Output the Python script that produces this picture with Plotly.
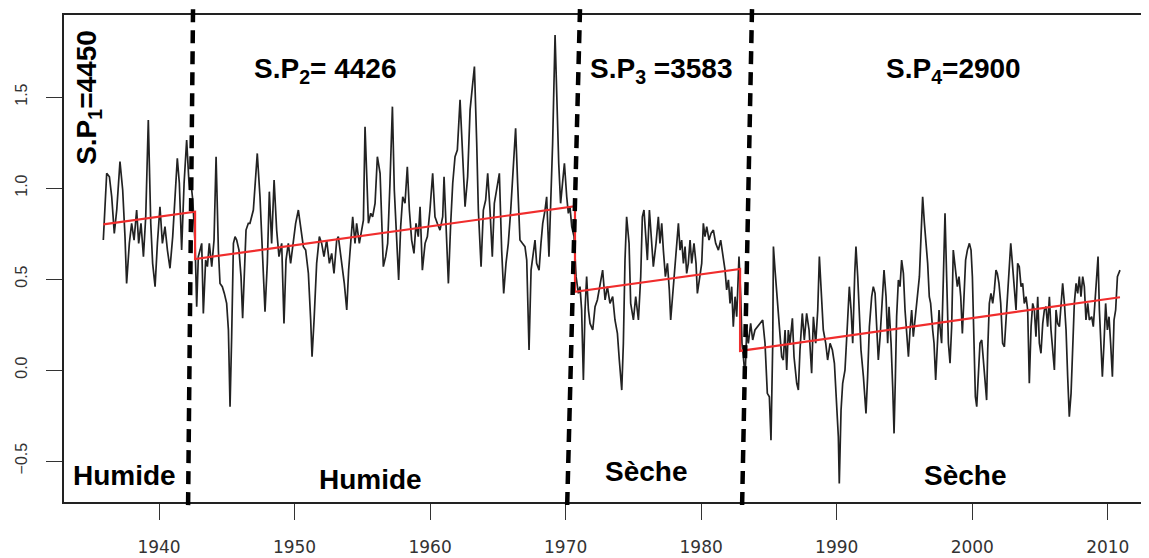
import plotly.graph_objects as go

# ---- series (year, value) ----
years = [
1935.89,1936.14,1936.34,1936.51,1936.70,1936.88,1937.12,1937.32,1937.49,1937.61,1937.81,1937.98,1938.16,1938.35,1938.50,1938.67,1938.85,1939.02,1939.21,1939.39,1939.53,1939.71,1939.88,1940.07,1940.25,1940.44,1940.62,1940.81,1941.01,1941.18,1941.35,1941.50,1941.67,1941.85,1942.04,1942.24,1942.36,1942.49,1942.66,1942.78,1942.90,1943.03,1943.15,1943.27,1943.44,1943.57,1943.71,1943.89,1944.06,1944.21,1944.38,1944.50,1944.67,1944.82,1944.99,1945.12,1945.24,1945.36,1945.49,1945.61,1945.73,1945.90,1946.05,1946.17,1946.30,1946.42,1946.59,
1946.71,1946.96,1947.25,1947.45,1947.65,1947.82,1947.99,1948.14,1948.31,1948.49,1948.68,1948.85,1949.05,1949.22,1949.37,1949.54,1949.71,1949.91,1950.08,1950.28,1950.45,1950.65,1950.82,1951.02,1951.19,1951.29,1951.44,1951.63,1951.83,1952.00,1952.17,1952.37,1952.57,1952.74,1952.91,1953.11,1953.23,1953.35,1953.53,1953.67,1953.85,1953.99,1954.14,1954.29,1954.46,1954.58,1954.78,1954.95,1955.08,1955.20,1955.32,1955.45,1955.62,1955.76,1955.94,1956.11,1956.31,1956.43,1956.55,1956.72,1956.87,1957.04,1957.22,1957.36,1957.54,1957.68,1957.83,1957.98,1958.15,1958.32,1958.47,1958.64,1958.81,1958.96,1959.13,
1959.26,1959.43,1959.63,1959.80,1959.99,1960.19,1960.36,1960.53,1960.73,1960.93,1961.03,1961.17,1961.35,1961.52,1961.67,1961.84,1962.01,1962.21,1962.38,1962.58,1962.77,1962.95,1963.12,1963.27,1963.44,1963.56,1963.76,1963.93,1964.10,1964.25,1964.42,1964.59,1964.74,1964.91,1965.11,1965.28,1965.43,1965.60,1965.77,1965.95,1966.14,1966.31,1966.46,1966.63,1966.81,1967.00,1967.13,1967.30,1967.45,1967.62,1967.74,1967.86,1968.04,1968.18,1968.31,1968.48,1968.60,1968.77,1968.92,1969.04,1969.22,1969.34,1969.49,1969.63,1969.78,1969.91,1970.08,1970.20,1970.32,1970.45,1970.62,1970.77,1970.94,1971.06,1971.18,1971.31,1971.43,1971.55,1971.68,
1971.80,1972.00,1972.17,1972.34,1972.54,1972.73,1972.91,1973.08,1973.27,1973.47,1973.64,1973.82,1973.96,1974.14,1974.26,1974.38,1974.50,1974.68,1974.80,1975.00,1975.17,1975.37,1975.54,1975.66,1975.78,1975.91,1976.03,1976.18,1976.30,1976.47,1976.67,1976.84,1976.96,1977.09,1977.21,1977.36,1977.51,1977.65,1977.75,1977.90,1978.07,1978.19,1978.32,1978.44,1978.56,1978.69,1978.81,1978.93,1979.05,1979.18,1979.30,1979.47,1979.62,1979.72,1979.87,1980.04,1980.16,1980.28,1980.41,1980.58,1980.73,1980.90,1981.07,1981.27,1981.44,1981.59,1981.76,1981.88,1982.01,1982.13,1982.25,1982.37,1982.50,1982.62,1982.79,1982.92,1983.01,1983.11,1983.24,1983.36,1983.48,1983.65,1983.80,1983.97,1984.17,
1984.34,1984.54,1984.71,1984.88,1985.03,1985.15,1985.28,1985.33,1985.45,1985.62,1985.77,1985.94,1986.06,1986.19,1986.31,1986.43,1986.55,1986.73,1986.85,1987.05,1987.17,1987.29,1987.46,1987.61,1987.78,1987.96,1988.15,1988.28,1988.45,1988.60,1988.72,1988.84,1989.01,1989.19,1989.33,1989.51,1989.68,1989.83,1990.00,1990.12,1990.19,1990.32,1990.44,1990.61,1990.78,1990.93,1991.06,1991.18,1991.33,1991.42,1991.55,1991.67,1991.79,1991.97,1992.16,1992.28,1992.41,1992.58,1992.70,1992.83,1992.95,1993.07,1993.20,1993.34,1993.49,1993.64,1993.76,1993.86,1994.01,1994.13,1994.23,1994.33,1994.42,1994.55,1994.67,1994.79,1994.92,1995.04,1995.16,1995.29,1995.41,1995.53,1995.65,1995.78,1995.95,1996.10,1996.22,1996.34,1996.47,1996.59,1996.71,1996.83,1996.93,1997.08,1997.18,1997.30,1997.42,1997.55,
1997.62,1997.74,1997.87,1997.99,1998.11,1998.24,1998.36,1998.48,1998.60,1998.73,1998.90,1999.02,1999.15,1999.27,1999.39,1999.51,1999.64,1999.79,1999.91,2000.01,2000.13,2000.23,2000.33,2000.45,2000.57,2000.70,2000.82,2000.94,2001.06,2001.14,2001.26,2001.38,2001.51,2001.63,2001.75,2001.85,2001.97,2002.10,2002.24,2002.37,2002.47,2002.59,2002.71,2002.84,2002.96,2003.08,2003.23,2003.35,2003.47,2003.60,2003.72,2003.84,2003.97,2004.09,2004.21,2004.34,2004.46,2004.58,2004.70,2004.83,2004.95,2005.07,2005.20,2005.32,2005.44,2005.56,2005.69,2005.81,2005.93,2006.06,2006.18,2006.30,2006.43,2006.55,2006.67,2006.80,2006.92,2007.04,2007.16,2007.29,2007.41,2007.53,2007.66,2007.78,2007.90,2008.02,2008.15,2008.27,2008.39,2008.52,2008.64,2008.81,2008.93,2009.06,2009.18,2009.28,2009.38,2009.50,2009.60,2009.72,2009.84,2009.97,2010.09,2010.21,2010.34,2010.46,2010.58,2010.71,2010.83,2010.90,
]
values = [
0.714,1.081,1.062,0.952,0.751,0.879,1.145,0.989,0.733,0.476,0.696,0.806,0.714,0.879,0.696,0.806,0.623,0.842,1.374,0.806,0.586,0.458,0.696,0.897,0.696,0.788,0.659,0.559,0.733,0.934,1.163,1.026,0.659,1.026,1.264,0.989,1.026,0.934,0.696,0.348,0.623,0.659,0.696,0.311,0.604,0.568,0.696,0.568,0.714,1.172,0.659,0.476,0.458,0.421,0.366,0.220,-0.201,0.183,0.696,0.733,0.714,0.659,0.513,0.284,0.513,0.769,0.806,
0.806,0.879,1.190,0.952,0.604,0.321,0.586,0.980,0.696,1.044,0.769,0.623,0.696,0.256,0.604,0.696,0.586,0.696,0.806,0.879,0.788,0.678,0.659,0.531,0.275,0.073,0.275,0.586,0.733,0.696,0.623,0.714,0.586,0.641,0.531,0.714,0.733,0.659,0.549,0.476,0.330,0.549,0.696,0.842,0.696,0.806,0.696,0.769,0.824,1.337,1.026,0.806,0.861,0.842,0.916,1.172,1.081,0.842,0.568,0.623,0.696,1.026,1.447,0.989,0.696,0.495,0.788,0.952,0.916,1.117,0.879,0.714,0.641,0.806,0.733,
0.897,0.549,0.696,0.733,0.879,1.081,0.842,0.806,0.769,0.842,1.062,0.806,0.476,0.806,1.026,1.172,1.209,1.484,1.209,0.897,1.062,1.429,1.557,1.667,1.245,0.879,0.568,0.879,0.934,1.081,0.879,0.623,0.916,0.989,1.081,0.659,0.421,0.586,0.696,0.879,1.154,1.328,1.026,0.714,0.696,0.678,0.604,0.110,0.549,0.659,0.714,0.586,0.549,0.696,0.806,0.879,0.952,0.623,0.952,1.245,1.841,1.465,1.136,0.916,1.062,1.136,0.952,0.861,0.897,0.788,0.733,0.513,0.421,0.458,0.330,-0.055,0.330,0.513,0.330,
0.256,0.220,0.348,0.385,0.476,0.549,0.385,0.458,0.366,0.403,0.275,0.201,0.055,-0.110,0.147,0.604,0.842,0.696,0.366,0.275,0.403,0.275,0.513,0.842,0.879,0.696,0.604,0.879,0.733,0.568,0.696,0.842,0.696,0.806,0.659,0.513,0.586,0.440,0.275,0.403,0.549,0.659,0.806,0.659,0.714,0.586,0.678,0.531,0.586,0.714,0.586,0.696,0.586,0.421,0.513,0.586,0.806,0.733,0.788,0.714,0.751,0.769,0.696,0.659,0.714,0.623,0.549,0.440,0.495,0.366,0.458,0.238,0.403,0.293,0.623,0.403,0.147,0.073,-0.037,0.220,0.147,0.256,0.165,0.220,0.238,
0.256,0.275,0.147,-0.128,-0.147,-0.385,0.147,0.678,0.549,0.366,0.256,0.073,0.055,0.220,0.000,0.220,0.147,0.284,0.073,-0.073,-0.110,0.110,0.311,0.165,0.311,0.220,-0.018,0.293,0.147,0.330,0.623,0.440,0.220,0.147,0.055,0.147,0.110,0.037,-0.183,-0.366,-0.623,-0.220,-0.073,0.000,0.238,0.458,0.330,0.147,0.531,0.678,0.513,0.330,0.110,-0.037,-0.238,-0.037,0.238,0.403,0.458,0.421,0.220,0.055,0.183,0.366,0.549,0.403,0.147,0.348,0.147,-0.092,-0.348,-0.037,0.293,0.495,0.458,0.604,0.531,0.330,0.220,0.073,0.220,0.330,0.183,0.275,0.403,0.513,0.733,0.952,0.806,0.696,0.586,0.403,0.366,0.220,0.147,-0.055,0.147,0.330,
0.238,0.147,0.513,0.861,0.513,0.147,0.037,0.238,0.659,0.568,0.458,0.513,0.403,0.201,0.385,0.604,0.659,0.696,0.659,0.513,0.147,-0.147,-0.201,-0.037,0.147,0.165,0.055,-0.037,-0.165,0.110,0.366,0.421,0.366,0.440,0.549,0.531,0.476,0.366,0.147,0.128,0.238,0.385,0.513,0.696,0.586,0.458,0.330,0.586,0.568,0.458,0.476,0.366,0.403,0.330,-0.073,0.238,0.366,0.330,0.183,0.403,0.147,0.092,0.256,0.330,0.348,0.238,0.403,0.220,0.110,0.000,0.330,0.256,0.238,0.366,0.476,0.366,0.220,-0.037,-0.256,-0.128,0.092,0.366,0.476,0.421,0.513,0.403,0.513,0.458,0.275,0.366,0.275,0.293,0.238,0.403,0.513,0.623,0.330,0.110,-0.037,0.147,0.366,0.220,0.293,0.147,-0.037,0.275,0.330,0.513,0.531,0.549,
]

# ---- segment trends (start year, end year, start value, end value) ----
seg_start_year = [1935.89, 1942.66, 1970.69, 1982.87]
seg_end_year   = [1942.66, 1970.69, 1982.87, 2010.90]
seg_start_val  = [0.80, 0.61, 0.43, 0.105]
seg_end_val    = [0.87, 0.90, 0.555, 0.40]

# ---- rupture lines (slightly slanted in the picture) ----
break_top_year    = [1942.51, 1971.06, 1983.75]
break_bottom_year = [1942.14, 1970.10, 1983.01]

# ---- labels ----
sp_labels = ["S.P<sub>2</sub>= 4426", "S.P<sub>3</sub> =3583", "S.P<sub>4</sub>=2900"]
sp_x = [1952.25, 1977.04, 1998.58]
sp_y = [1.648, 1.648, 1.648]
sp1_label = "S.P<sub>1</sub>=4450"
sp1_x, sp1_y = 1934.75, 1.50
regime_labels = ["Humide", "Humide", "Sèche", "Sèche"]
regime_x = [1937.49, 1955.57, 1976.00, 1999.47]
regime_y = [-0.577, -0.604, -0.56, -0.577]

x_ticks = [1940, 1950, 1960, 1970, 1980, 1990, 2000, 2010]
y_ticks = [-0.5, 0.0, 0.5, 1.0, 1.5]
y_ticktext = ["\u22120.5", "0.0", "0.5", "1.0", "1.5"]

fig = go.Figure()

fig.add_trace(go.Scatter(x=years, y=values, mode="lines",
                         line=dict(color="#222222", width=1.7),
                         hoverinfo="skip", showlegend=False))

seg_x, seg_y = [], []
for i in range(len(seg_start_year)):
    seg_x += [seg_start_year[i], seg_end_year[i]]
    seg_y += [seg_start_val[i], seg_end_val[i]]
fig.add_trace(go.Scatter(x=seg_x, y=seg_y, mode="lines",
                         line=dict(color="rgb(240,45,45)", width=2.2),
                         hoverinfo="skip", showlegend=False))

for t, b in zip(break_top_year, break_bottom_year):
    fig.add_shape(type="line", xref="x", yref="paper",
                  x0=t, x1=b, y0=1.012, y1=-0.021,
                  line=dict(color="black", width=4.5, dash="13px,8px"),
                  layer="above")

bold_font = dict(family="Liberation Sans, Arial, sans-serif", size=28, color="black")

for txt, x, y in zip(sp_labels, sp_x, sp_y):
    fig.add_annotation(x=x, y=y, xref="x", yref="y", text="<b>" + txt + "</b>",
                       showarrow=False, font=bold_font)
fig.add_annotation(x=sp1_x, y=sp1_y, xref="x", yref="y", text="<b>" + sp1_label + "</b>",
                   showarrow=False, font=bold_font, textangle=-90)
for txt, x, y in zip(regime_labels, regime_x, regime_y):
    fig.add_annotation(x=x, y=y, xref="x", yref="y", text="<b>" + txt + "</b>",
                       showarrow=False, font=bold_font)

x_tick_font = dict(family="DejaVu Sans, sans-serif", size=17, color="#333")
y_tick_font = dict(family="Liberation Sans, Arial, sans-serif", size=16, color="#333")

# the page body adds an 8px offset, so the figure is 8px smaller than the window
fig.update_layout(
    width=1141, height=550,
    margin=dict(l=56, r=0, t=7, b=56, autoexpand=False),
    paper_bgcolor="white", plot_bgcolor="white",
    xaxis=dict(range=[1932.99, 2013.04], tickvals=x_ticks, showgrid=False, zeroline=False,
               automargin=False,
               showline=True, linecolor="#222", linewidth=1.6, mirror=True,
               ticks="outside", ticklen=16, tickwidth=1.4, tickcolor="#333",
               tickfont=x_tick_font, ticklabelstandoff=13),
    yaxis=dict(range=[-0.725, 1.9505], tickvals=y_ticks, ticktext=y_ticktext,
               showgrid=False, zeroline=False, automargin=False,
               showline=True, linecolor="#222", linewidth=1.6, mirror=False,
               ticks="outside", ticklen=16, tickwidth=1.4, tickcolor="#333",
               tickfont=y_tick_font, tickangle=-90, ticklabelstandoff=13),
)

fig.write_html("out.html")
